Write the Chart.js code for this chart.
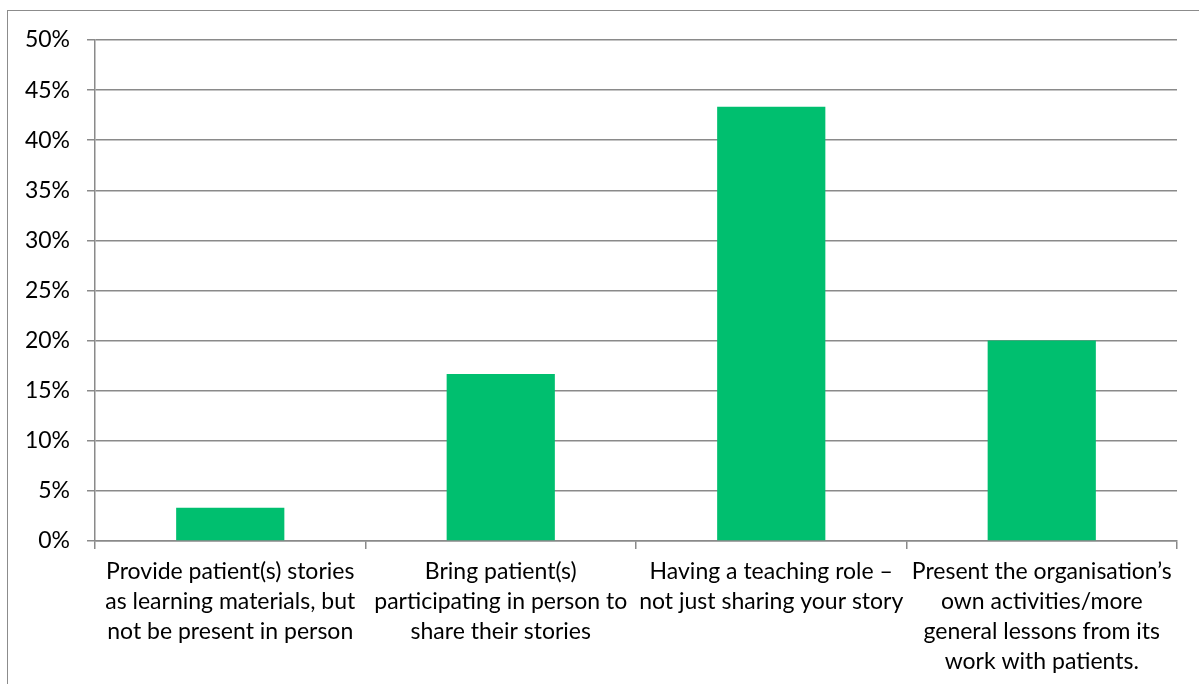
<!DOCTYPE html>
<html>
<head>
<meta charset="utf-8">
<script src="https://cdn.jsdelivr.net/npm/chart.js@4.4.1/dist/chart.umd.min.js"></script>
<style>
  html, body { margin: 0; padding: 0; background: #fff; }
  #wrap { position: relative; width: 1199px; height: 684px; overflow: hidden; }
  #frame { position: absolute; left: 7px; top: 10px; width: 1300px; height: 800px; border: 1px solid #8c8c8c; box-sizing: border-box; }
  canvas { position: absolute; left: 0; top: 0; }
</style>
</head>
<body>
<div id="wrap">
  <div id="frame"></div>
  <canvas id="chart" width="1199" height="684"></canvas>
</div>
<script>
'use strict';

const categories = [
  ['Provide patient(s) stories', 'as learning materials, but', 'not be present in person'],
  ['Bring patient(s)', 'participating in person to', 'share their stories'],
  ['Having a teaching role \u2013', 'not just sharing your story'],
  ['Present the organisation\u2019s', 'own activities/more', 'general lessons from its', 'work with patients.']
];
const shares = [3.33, 16.67, 43.33, 20.0];
const yTicks = [0, 5, 10, 15, 20, 25, 30, 35, 40, 45, 50];

const gridCol = '#8a8a8a';
const font = { family: 'Lato, "Open Sans", sans-serif', size: 23 };

new Chart(document.getElementById('chart').getContext('2d'), {
  type: 'bar',
  data: {
    labels: categories,
    datasets: [{ data: shares, backgroundColor: '#00bf6f', barPercentage: 0.4, categoryPercentage: 1 }]
  },
  options: {
    responsive: false,
    animation: false,
    layout: { padding: { top: 40, right: 22, left: 0, bottom: 0 } },
    plugins: { legend: { display: false }, tooltip: { enabled: false } },
    scales: {
      y: {
        min: 0, max: 50,
        afterFit: s => { s.width = 95; },
        afterBuildTicks: s => { s.ticks = yTicks.map(v => ({ value: v })); },
        grid: { color: gridCol, lineWidth: 1.5, tickLength: 8 },
        border: { color: gridCol, width: 1.5 },
        ticks: { font, color: '#000', padding: 17, callback: v => v + '%' }
      },
      x: {
        afterFit: s => { s.height = 143; },
        grid: { drawOnChartArea: false, color: gridCol, lineWidth: 1.5, tickLength: 8, offset: true },
        border: { color: gridCol, width: 1.5 },
        ticks: { font: { ...font, lineHeight: 1.3 }, color: '#000', padding: 8, maxRotation: 0, autoSkip: false }
      }
    }
  }
});
</script>
</body>
</html>
